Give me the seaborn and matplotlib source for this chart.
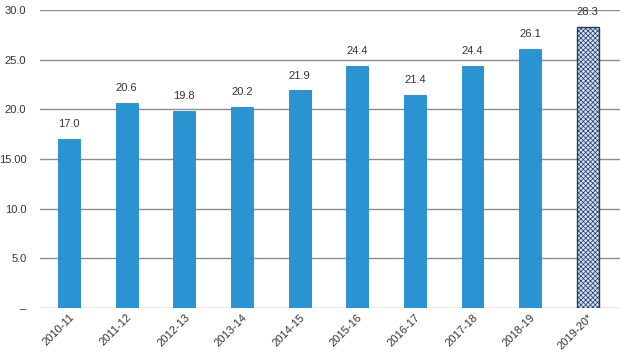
import seaborn as sns
import matplotlib.pyplot as plt
import pandas as pd

# Data
years = ['2010-11', '2011-12', '2012-13', '2013-14', '2014-15', '2015-16',
         '2016-17', '2017-18', '2018-19', '2019-20*']
values = [17.0, 20.6, 19.8, 20.2, 21.9, 24.4, 21.4, 24.4, 26.1, 28.3]
ytick_vals = [0, 5, 10, 15, 20, 25, 30]
ytick_labels = ['–', '5.0', '10.0', '15.00', '20.0', '25.0', '30.0']

df = pd.DataFrame({'year': years, 'value': values})

sns.set_style('white')
plt.rcParams['font.family'] = ['Liberation Sans', 'DejaVu Sans']
plt.rcParams['hatch.linewidth'] = 0.5

fig = plt.figure(figsize=(6.2, 3.55), dpi=100)
ax = fig.add_axes([0.065, 0.132, 0.935, 0.84])
ax = sns.barplot(data=df, x='year', y='value', color='#2A93D1', width=0.38,
                 saturation=1, ax=ax)

# last bar is a forecast: hatched
last = ax.patches[-1]
last.set_facecolor('#D5DFEE')
last.set_edgecolor('#1F3A68')
last.set_hatch('xxxxxxx')
last.set_linewidth(1.0)
for p in ax.patches[:-1]:
    p.set_edgecolor('#1C8AD0')
    p.set_linewidth(0.6)

for i, v in enumerate(values):
    ax.text(i, v + 1.0, f'{v:.1f}', ha='center', va='bottom', fontsize=8,
            color='#333333')

ax.set_ylim(0, 30)
ax.set_xlim(-0.5, 9.56)
ax.set_yticks(ytick_vals)
ax.set_yticklabels(ytick_labels, fontsize=8, color='#333333')
ax.yaxis.grid(True, color='#8C8C8C', linewidth=1.0)
ax.set_axisbelow(True)
for s in ax.spines.values():
    s.set_visible(False)
ax.tick_params(axis='y', length=0, pad=10)
ax.tick_params(axis='x', length=0, pad=3)
plt.xticks(rotation=45, ha='right', rotation_mode='anchor', fontsize=8,
           color='#333333')
ax.set_xlabel('')
ax.set_ylabel('')

plt.savefig('out.png', dpi=100)
